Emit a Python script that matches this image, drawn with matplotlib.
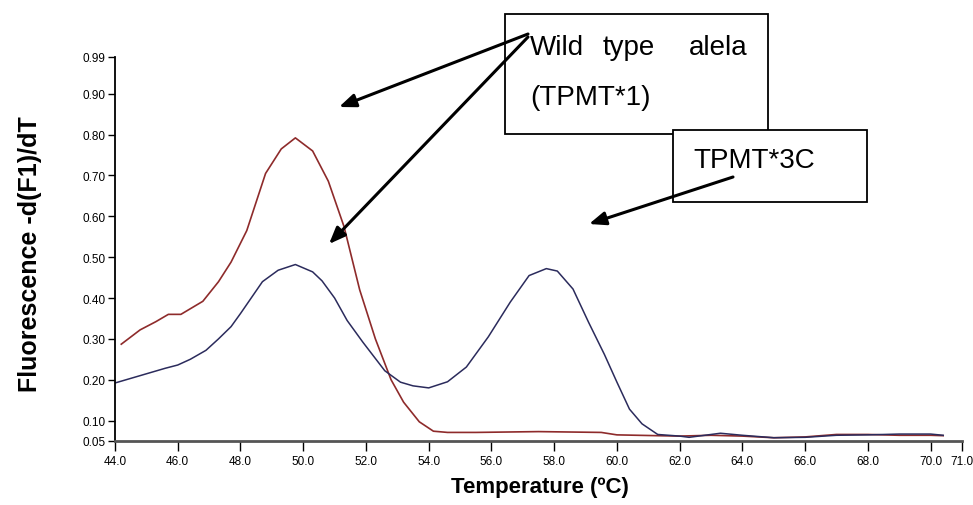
import matplotlib.pyplot as plt
from matplotlib.patches import Rectangle, FancyArrowPatch

plt.rcParams['font.family'] = ['Liberation Sans', 'DejaVu Sans']

# TPMT*1 (wild type) melting curve
red_t = [44.2, 44.8, 45.3, 45.7, 46.1, 46.8, 47.3, 47.7, 48.2, 48.8, 49.3, 49.75,
         50.3, 50.8, 51.3, 51.8, 52.3, 52.8, 53.2, 53.7, 54.15, 54.6, 55.5, 56.5,
         57.5, 58.5, 59.5, 60.0, 61.3, 62.0, 63.0, 64.0, 65.0, 66.0, 67.0, 68.0,
         69.0, 70.0, 70.4]
red_v = [0.287, 0.322, 0.342, 0.360, 0.360, 0.392, 0.440, 0.488, 0.565, 0.705, 0.765,
         0.792, 0.760, 0.686, 0.575, 0.420, 0.300, 0.200, 0.145, 0.097, 0.074, 0.071,
         0.071, 0.072, 0.073, 0.072, 0.071, 0.065, 0.063, 0.062, 0.064, 0.062, 0.058,
         0.060, 0.066, 0.066, 0.064, 0.064, 0.063]

# TPMT*3C heterozygous melting curve
blue_t = [44.0, 44.8, 45.6, 46.0, 46.4, 46.9, 47.3, 47.7, 48.0, 48.7, 49.2, 49.75,
          50.3, 50.6, 51.0, 51.4, 51.9, 52.6, 53.1, 53.5, 54.0, 54.6, 55.2, 55.9,
          56.6, 57.2, 57.75, 58.1, 58.6, 59.1, 59.6, 60.0, 60.4, 60.8, 61.3, 62.0,
          62.3, 63.0, 63.3, 64.0, 65.0, 66.0, 67.0, 68.0, 69.0, 70.0, 70.4]
blue_v = [0.192, 0.210, 0.228, 0.236, 0.250, 0.272, 0.300, 0.330, 0.362, 0.440, 0.468,
          0.482, 0.464, 0.442, 0.400, 0.345, 0.292, 0.222, 0.194, 0.185, 0.180, 0.195,
          0.231, 0.305, 0.390, 0.455, 0.472, 0.466, 0.422, 0.340, 0.262, 0.194, 0.128,
          0.092, 0.066, 0.062, 0.059, 0.066, 0.069, 0.064, 0.058, 0.059, 0.064, 0.065,
          0.067, 0.067, 0.064]

x_ticks = [44, 46, 48, 50, 52, 54, 56, 58, 60, 62, 64, 66, 68, 70, 71]
y_ticks = [0.05, 0.10, 0.20, 0.30, 0.40, 0.50, 0.60, 0.70, 0.80, 0.90, 0.99]

W, H = 973, 506
fig = plt.figure(figsize=(W / 100, H / 100), dpi=100)
ax = fig.add_axes([115 / W, 1 - 442 / H, (962 - 115) / W, (442 - 58) / H])

ax.plot(red_t, red_v, color='#8e2b2b', lw=1.2)
ax.plot(blue_t, blue_v, color='#2b2b5c', lw=1.1)

ax.set_xlim(44, 71)
ax.set_ylim(0.05, 0.99)
ax.set_xticks(x_ticks)
ax.set_xticklabels(['%.1f' % t for t in x_ticks])
ax.set_yticks(y_ticks)
ax.set_yticklabels(['%.2f' % v for v in y_ticks])
ax.tick_params(axis='both', labelsize=8.5, direction='out')
ax.tick_params(axis='y', length=5, width=1, pad=2)
ax.tick_params(axis='x', length=7, width=1, pad=3)
ax.spines['top'].set_visible(False)
ax.spines['right'].set_visible(False)
ax.spines['left'].set_linewidth(1.3)
ax.spines['bottom'].set_linewidth(2)
ax.spines['bottom'].set_color('#555555')

fig.text(540 / W, 1 - 488 / H, 'Temperature (ºC)', fontsize=16, fontweight='bold',
         ha='center', va='center')
fig.text(30 / W, 1 - 254 / H, 'Fluorescence -d(F1)/dT', fontsize=18, fontweight='bold',
         ha='center', va='center', rotation=90)


def px(x, y):
    return (x / W, 1 - y / H)


# annotation boxes
fig.add_artist(Rectangle(px(505, 135), 263 / W, 120 / H, transform=fig.transFigure,
                         facecolor='white', edgecolor='black', lw=1.3))
fig.add_artist(Rectangle(px(673, 203), 194 / W, 72 / H, transform=fig.transFigure,
                         facecolor='white', edgecolor='black', lw=1.3))

for word, x in [('Wild', 530), ('type', 603), ('alela', 689)]:
    fig.text(*px(x, 55), word, fontsize=20, va='baseline', ha='left')
fig.text(*px(530, 105), '(TPMT*1)', fontsize=20, va='baseline', ha='left')
fig.text(*px(693, 168), 'TPMT*3C', fontsize=20, va='baseline', ha='left')

# arrows
for start, end in [((528, 35), (339, 108)), ((528, 38), (329, 245)),
                   ((733, 178), (589, 225))]:
    fig.add_artist(FancyArrowPatch(px(*start), px(*end), transform=fig.transFigure,
                                   arrowstyle='-|>,head_length=10,head_width=4',
                                   mutation_scale=1, color='black', lw=2.2,
                                   shrinkA=0, shrinkB=0))

fig.savefig('out.png', dpi=100)
